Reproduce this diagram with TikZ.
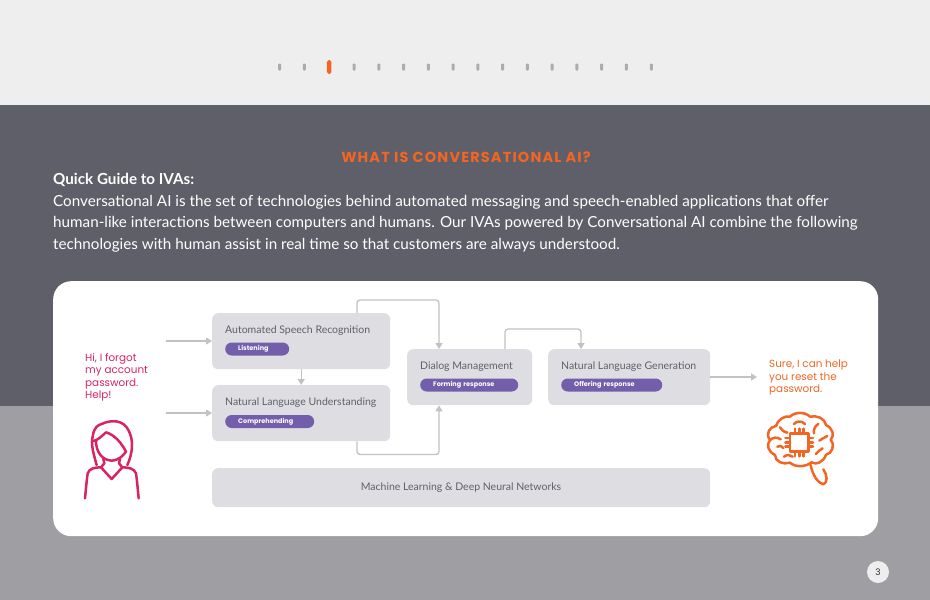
\documentclass[tikz,border=0pt]{standalone}
\usepackage{fontspec}
\setmainfont{Lato}
\newfontfamily\popp{Poppins}
\newfontfamily\poppw[LetterSpace=8]{Poppins}
\usetikzlibrary{arrows.meta}
\definecolor{topbg}{HTML}{EEEEEE}
\definecolor{midbg}{HTML}{5F5F69}
\definecolor{lowbg}{HTML}{9E9EA3}
\definecolor{boxc}{HTML}{DEDEE2}
\definecolor{pillc}{HTML}{735EAB}
\definecolor{linec}{HTML}{C2C2C2}
\definecolor{orng}{HTML}{F26522}
\definecolor{pinkc}{HTML}{D8245F}
\definecolor{txtc}{HTML}{5F5F69}
\tikzset{
  x=1pt,y=-1pt,
  boxn/.style={fill=boxc,rounded corners=6pt,inner sep=0pt,anchor=north west},
  boxlabel/.style={anchor=west,font=\fontsize{10.5}{13}\selectfont,text=txtc,inner sep=0pt},
  pilln/.style={fill=pillc,rounded corners=6.5pt,minimum height=13pt,inner sep=0pt,anchor=north west,text=white,
    font=\popp\fontsize{6.5}{8}\bfseries\selectfont,align=left},
  conn/.style={draw=linec,line width=1.3pt,rounded corners=3pt,-{Triangle[length=6pt,width=7pt]}},
  dotn/.style={fill=gray!65,rounded corners=1pt,minimum width=3pt,minimum height=7pt,inner sep=0pt},
  bodyt/.style={anchor=base west,inner sep=0pt,text=white,font=\fontsize{15.22}{18}\selectfont},
  speech/.style={anchor=north west,inner sep=0pt,align=left,font=\popp\fontsize{10.4}{12.6}\selectfont},
  iconp/.style={draw=pinkc,line width=2.5pt,line cap=round,line join=round},
  icono/.style={draw=orng,line width=2.5pt,line cap=round,line join=round},
}
\begin{document}
\begin{tikzpicture}
\useasboundingbox (0,0) rectangle (930,600);
\fill[topbg] (0,0) rectangle (930,105);
\fill[midbg] (0,105) rectangle (930,406);
\fill[lowbg] (0,406) rectangle (930,600);
\foreach \i in {0,1,3,4,5,6,7,8,9,10,11,12,13,14,15}{
  \node[dotn] (dot\i) at (279.7+24.77*\i,67) {};
}
\node[fill=orng,rounded corners=1.8pt,minimum width=4.5pt,minimum height=14pt,inner sep=0pt] (dot2) at (329.2,67) {};
\node[anchor=base,inner sep=0pt,text=orng,font=\poppw\fontsize{14.5}{16}\bfseries\selectfont] (title) at (466,162.5) {WHAT IS CONVERSATIONAL AI?};
\node[bodyt,font=\fontsize{15.22}{18}\bfseries\selectfont] (quick) at (53,184) {Quick Guide to IVAs:};
\node[bodyt] (l1) at (53,206) {Conversational AI is the set of technologies behind automated messaging and speech-enabled applications that offer};
\node[bodyt] (l2) at (53,227.5) {human-like interactions between computers and humans. Our IVAs powered by Conversational AI combine the following};
\node[bodyt] (l3) at (53,249.5) {technologies with human assist in real time so that customers are always understood.};
\node[fill=white,rounded corners=18pt,anchor=north west,minimum width=825pt,minimum height=255pt,inner sep=0pt] (card) at (53,281) {};

% boxes
\node[boxn,minimum width=178pt,minimum height=56pt] (asr) at (212,313) {};
\node[boxn,minimum width=178pt,minimum height=56pt] (nlu) at (212,385) {};
\node[boxn,minimum width=125pt,minimum height=56pt] (dm) at (407,349) {};
\node[boxn,minimum width=162pt,minimum height=56pt] (nlg) at (548,349) {};
\node[boxn,minimum width=498pt,minimum height=39pt] (ml) at (212,468) {};

\node[boxlabel] (asrt) at (225,330.5) {Automated Speech Recognition};
\node[boxlabel] (nlut) at (225,402.5) {Natural Language Understanding};
\node[boxlabel] (dmt) at (420,366.5) {Dialog Management};
\node[boxlabel] (nlgt) at (561,366.5) {Natural Language Generation};
\node[boxlabel,anchor=center,text=txtc] (mlt) at (461,488) {Machine Learning \& Deep Neural Networks};

\node[pilln,minimum width=64pt,text width=38pt] (p1) at (225,342.3) {Listening};
\node[pilln,minimum width=89pt,text width=63pt] (p2) at (225,414.8) {Comprehending};
\node[pilln,minimum width=98pt,text width=72pt] (p3) at (420,378.3) {Forming response};
\node[pilln,minimum width=101pt,text width=75pt] (p4) at (561,378.3) {Offering response};

% connectors
\coordinate (inA) at (166,341);
\coordinate (inB) at (166,413);
\coordinate (outE) at (757,377);
\draw[conn] (inA) -- (inA -| asr.west);
\draw[conn] (inB) -- (inB -| nlu.west);
\draw[conn] ([xshift=-0pt]asr.south) -- ([xshift=-0pt]nlu.north);
\draw[conn] ([xshift=145pt]asr.north west) -- ++(0,-13) -| ([xshift=32pt]dm.north west);
\draw[conn] ([xshift=145pt]nlu.south west) -- ++(0,13) -| ([xshift=32pt]dm.south west);
\draw[conn] ([xshift=98pt]dm.north west) -- ++(0,-20) -| ([xshift=33pt]nlg.north west);
\draw[conn] (nlg.east |- outE) -- (outE);

% speech
\node[speech,text=pinkc] (hi) at (85,353) {Hi, I forgot\\my account\\password.\\Help!};
\node[speech,text=orng] (sure) at (769,359.5) {Sure, I can help\\you reset the\\password.};

% person
\begin{scope}[shift={(70,410)},scale=1/3]
\draw[iconp] (80,165) .. controls (70,130) and (62,100) .. (68,80) .. controls (72,50) and (85,45) .. (95,42)
  .. controls (125,28) and (160,30) .. (175,60) .. controls (192,90) and (188,130) .. (172,165);
\draw[iconp] (70,93) .. controls (85,90) and (95,78) .. (108,67) .. controls (135,75) and (155,100) .. (168,125)
  .. controls (160,135) and (150,150) .. (125,152) .. controls (95,150) and (78,125) .. (78,92);
\draw[iconp] (100,147) -- (103,160) -- (93,172) -- (125,207) -- (157,172) -- (147,160) -- (150,147);
\draw[iconp] (45,265) .. controls (48,235) and (50,210) .. (53,190) .. controls (58,175) and (75,172) .. (93,172);
\draw[iconp] (206,265) .. controls (203,235) and (201,210) .. (198,190) .. controls (192,175) and (175,172) .. (157,172);
\end{scope}

% brain
\begin{scope}[shift={(740,350)},scale=1/3]
\draw[icono] (150,200) .. controls (165,185) and (195,185) .. (210,200) .. controls (230,195) and (255,205) .. (258,225)
  .. controls (278,235) and (285,255) .. (272,270) .. controls (287,285) and (275,312) .. (258,314)
  .. controls (252,335) and (228,347) .. (215,337) .. controls (195,352) and (165,352) .. (150,338)
  .. controls (130,345) and (105,335) .. (105,315) .. controls (85,305) and (78,285) .. (90,270)
  .. controls (75,250) and (90,230) .. (108,228) .. controls (112,210) and (135,195) .. (150,200);
\draw[icono] (212,345) .. controls (218,375) and (232,398) .. (250,403) .. controls (264,398) and (262,375) .. (250,358) ;
\draw[icono] (120,232) .. controls (125,240) and (130,245) .. (142,248);
\draw[icono] (162,222) .. controls (170,212) and (185,212) .. (195,222);
\draw[icono] (222,250) .. controls (220,238) and (225,228) .. (235,222);
\draw[icono] (238,272) .. controls (245,268) and (252,262) .. (262,258) ;
\draw[icono] (90,270) .. controls (100,262) and (110,260) .. (122,268);
\draw[icono] (112,290) .. controls (120,285) and (126,288) .. (130,294);
\draw[icono] (132,320) .. controls (142,312) and (150,315) .. (158,320);
\draw[icono] (228,312) .. controls (234,305) and (240,298) .. (248,295);
\draw[icono] (150,250) rectangle (205,305);
\foreach \p in {165,178,191}{
  \draw[icono] (\p,236) -- (\p,250);
  \draw[icono] (\p,305) -- (\p,319);
}
\foreach \p in {264,277,290}{
  \draw[icono] (136,\p) -- (150,\p);
  \draw[icono] (205,\p) -- (219,\p);
}
\end{scope}

% page number
\node[circle,fill=topbg,minimum size=22pt,inner sep=0pt,font=\popp\fontsize{9}{10}\selectfont,text=black!80] (pg) at (878,572) {3};
\end{tikzpicture}
\end{document}
